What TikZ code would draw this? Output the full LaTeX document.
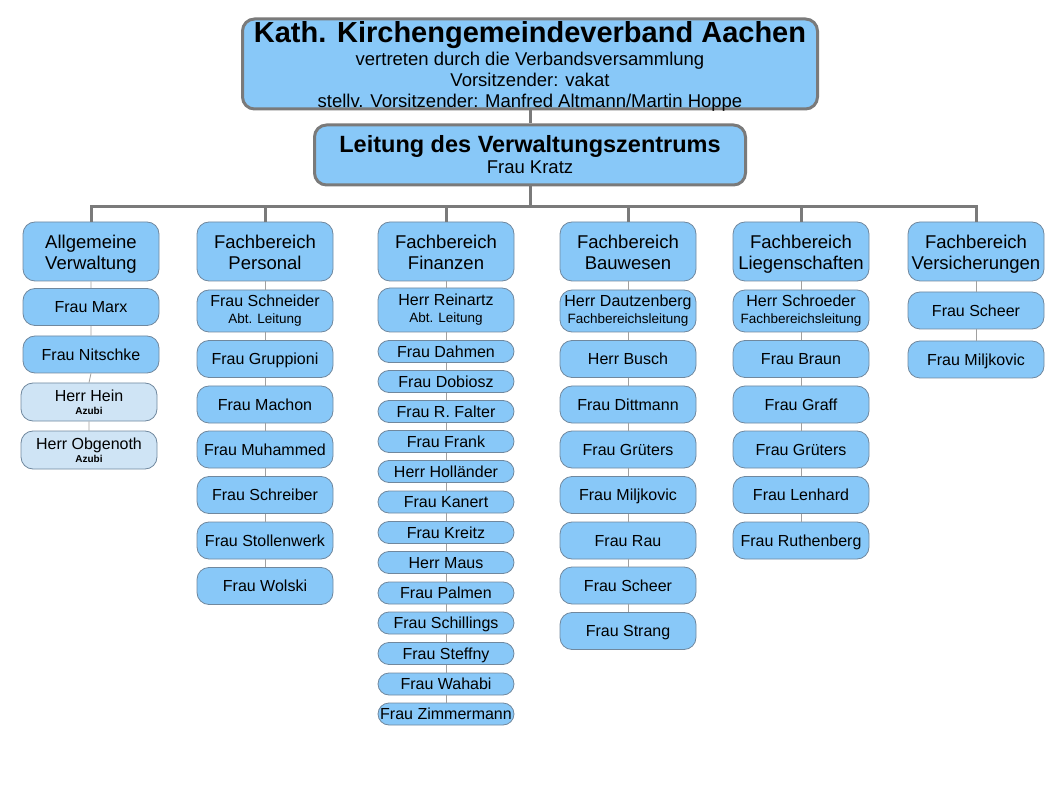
\documentclass[tikz,border=0pt]{standalone}
\usepackage{fontspec}
\setmainfont{Liberation Sans}
\definecolor{boxfill}{RGB}{136,200,248}
\definecolor{azubifill}{RGB}{207,228,245}
\definecolor{boxline}{RGB}{112,136,158}
\definecolor{treeline}{RGB}{122,122,122}
\definecolor{colline}{RGB}{160,160,160}
\newcommand{\fbtext}[2]{\rule{0pt}{19.5pt}#1\\#2\rule[-4pt]{0pt}{4pt}}
\begin{document}
\begin{tikzpicture}[x=1pt,y=-1pt,
  topbox/.style={draw=treeline,line width=3pt,fill=boxfill,rounded corners=12pt,align=center,inner sep=0pt},
  headbox/.style={draw=boxline,line width=0.8pt,fill=boxfill,rounded corners=12pt,align=center,inner sep=0pt,
    minimum width=136pt,minimum height=59pt,font=\fontsize{18.5}{21}\selectfont},
  itembox/.style={draw=boxline,line width=0.8pt,fill=boxfill,rounded corners=12pt,align=center,inner sep=0pt,
    minimum width=136pt,minimum height=37pt,font=\fontsize{16}{17}\selectfont},
  onebox/.style={itembox,text height=11.5pt,text depth=0pt},
  twobox/.style={itembox,minimum height=42pt},
  azubibox/.style={itembox,fill=azubifill,minimum height=38pt},
  pillbox/.style={itembox,minimum height=22pt,rounded corners=11pt,text height=11.5pt,text depth=0pt},
  tree/.style={draw=treeline,line width=3pt},
  colconn/.style={draw=colline,line width=0.8pt}]
\useasboundingbox (0,0) rectangle (1058,794);
% Verband und Leitung
\node[topbox,minimum width=575pt,minimum height=90pt,font=\fontsize{18.5}{21}\selectfont] (kgv) at (530,64)
  {{\fontsize{29}{30}\bfseries\rule{0pt}{23pt}Kath. Kirchengemeindeverband Aachen}\\[2pt]
   vertreten durch die Verbandsversammlung\\
   Vorsitzender: vakat\\
   \smash{stellv. Vorsitzender: Manfred Altmann/Martin Hoppe}};
\node[topbox,minimum width=431pt,minimum height=60pt,font=\fontsize{18.5}{21}\selectfont] (vz) at (530,155)
  {{\fontsize{23.5}{24}\bfseries Leitung des Verwaltungszentrums}\\Frau Kratz};
% Fachbereiche
\node[headbox] (fa) at (91,251.5) {\fbtext{Allgemeine}{Verwaltung}};
\node[headbox] (fp) at (265,251.5) {\fbtext{Fachbereich}{Personal}};
\node[headbox] (ff) at (446,251.5) {\fbtext{Fachbereich}{Finanzen}};
\node[headbox] (fb) at (628,251.5) {\fbtext{Fachbereich}{Bauwesen}};
\node[headbox] (fl) at (801,251.5) {\fbtext{Fachbereich}{Liegenschaften}};
\node[headbox] (fv) at (976,251.5) {\fbtext{Fachbereich}{Versicherungen}};
% Allgemeine Verwaltung
\node[onebox] (a1) at (91,307) {Frau Marx};
\node[onebox] (a2) at (91,354.5) {Frau Nitschke};
\node[azubibox] (a3) at (89,402) {Herr Hein\\[-4pt]{\fontsize{10}{11}\bfseries Azubi}};
\node[azubibox] (a4) at (89,450) {Herr Obgenoth\\[-4pt]{\fontsize{10}{11}\bfseries Azubi}};
% Personal
\node[twobox] (p1) at (265,311) {Frau Schneider\\{\fontsize{13.5}{14}\selectfont Abt. Leitung}};
\node[onebox] (p2) at (265,359) {Frau Gruppioni};
\node[onebox] (p3) at (265,404.5) {Frau Machon};
\node[onebox] (p4) at (265,449.5) {Frau Muhammed};
\node[onebox] (p5) at (265,495) {Frau Schreiber};
\node[onebox] (p6) at (265,540.5) {Frau Stollenwerk};
\node[onebox] (p7) at (265,586) {Frau Wolski};
% Finanzen
\node[twobox,minimum height=44pt] (n1) at (446,310) {Herr Reinartz\\{\fontsize{13.5}{14}\selectfont Abt. Leitung}};
\node[pillbox] (n2) at (446,351.5) {Frau Dahmen};
\node[pillbox] (n3) at (446,381.5) {Frau Dobiosz};
\node[pillbox] (n4) at (446,411.5) {Frau R. Falter};
\node[pillbox] (n5) at (446,441.5) {Frau Frank};
\node[pillbox] (n6) at (446,471.5) {Herr Holländer};
\node[pillbox] (n7) at (446,502) {Frau Kanert};
\node[pillbox] (n8) at (446,532.5) {Frau Kreitz};
\node[pillbox] (n9) at (446,562.5) {Herr Maus};
\node[pillbox] (n10) at (446,593) {Frau Palmen};
\node[pillbox] (n11) at (446,623) {Frau Schillings};
\node[pillbox] (n12) at (446,653.5) {Frau Steffny};
\node[pillbox] (n13) at (446,684) {Frau Wahabi};
\node[pillbox] (n14) at (446,714) {Frau Zimmermann};
% Bauwesen
\node[twobox] (b1) at (628,311) {Herr Dautzenberg\\{\fontsize{13.5}{14}\selectfont Fachbereichsleitung}};
\node[onebox] (b2) at (628,359) {Herr Busch};
\node[onebox] (b3) at (628,404.5) {Frau Dittmann};
\node[onebox] (b4) at (628,449.5) {Frau Grüters};
\node[onebox] (b5) at (628,495) {Frau Miljkovic};
\node[onebox] (b6) at (628,540.5) {Frau Rau};
\node[onebox] (b7) at (628,585.5) {Frau Scheer};
\node[onebox] (b8) at (628,631) {Frau Strang};
% Liegenschaften
\node[twobox] (l1) at (801,311) {Herr Schroeder\\{\fontsize{13.5}{14}\selectfont Fachbereichsleitung}};
\node[onebox] (l2) at (801,359) {Frau Braun};
\node[onebox] (l3) at (801,404.5) {Frau Graff};
\node[onebox] (l4) at (801,449.5) {Frau Grüters};
\node[onebox] (l5) at (801,495) {Frau Lenhard};
\node[onebox] (l6) at (801,540.5) {Frau Ruthenberg};
% Versicherungen
\node[onebox] (v1) at (976,310.5) {Frau Scheer};
\node[onebox] (v2) at (976,359.5) {Frau Miljkovic};
% Baum
\draw[tree] (kgv.south) -- (vz.north);
\draw[tree] (vz.south) -- ++(0,20) -| (fa.north);
\draw[tree] (vz.south) -- ++(0,20) -| (fp.north);
\draw[tree] (vz.south) -- ++(0,20) -| (ff.north);
\draw[tree] (vz.south) -- ++(0,20) -| (fb.north);
\draw[tree] (vz.south) -- ++(0,20) -| (fl.north);
\draw[tree] (vz.south) -- ++(0,20) -| (fv.north);
% Spalten
\draw[colconn] (fa.south) -- (a1.north) (a1.south) -- (a2.north) (a2.south) -- (a3.north) (a3.south) -- (a4.north);
\draw[colconn] (fp.south) -- (p1.north) (p1.south) -- (p2.north) (p2.south) -- (p3.north) (p3.south) -- (p4.north)
  (p4.south) -- (p5.north) (p5.south) -- (p6.north) (p6.south) -- (p7.north);
\draw[colconn] (ff.south) -- (n1.north) (n1.south) -- (n2.north) (n2.south) -- (n3.north) (n3.south) -- (n4.north)
  (n4.south) -- (n5.north) (n5.south) -- (n6.north) (n6.south) -- (n7.north) (n7.south) -- (n8.north)
  (n8.south) -- (n9.north) (n9.south) -- (n10.north) (n10.south) -- (n11.north) (n11.south) -- (n12.north)
  (n12.south) -- (n13.north) (n13.south) -- (n14.north);
\draw[colconn] (fb.south) -- (b1.north) (b1.south) -- (b2.north) (b2.south) -- (b3.north) (b3.south) -- (b4.north)
  (b4.south) -- (b5.north) (b5.south) -- (b6.north) (b6.south) -- (b7.north) (b7.south) -- (b8.north);
\draw[colconn] (fl.south) -- (l1.north) (l1.south) -- (l2.north) (l2.south) -- (l3.north) (l3.south) -- (l4.north)
  (l4.south) -- (l5.north) (l5.south) -- (l6.north);
\draw[colconn] (fv.south) -- (v1.north) (v1.south) -- (v2.north);
\end{tikzpicture}
\end{document}
